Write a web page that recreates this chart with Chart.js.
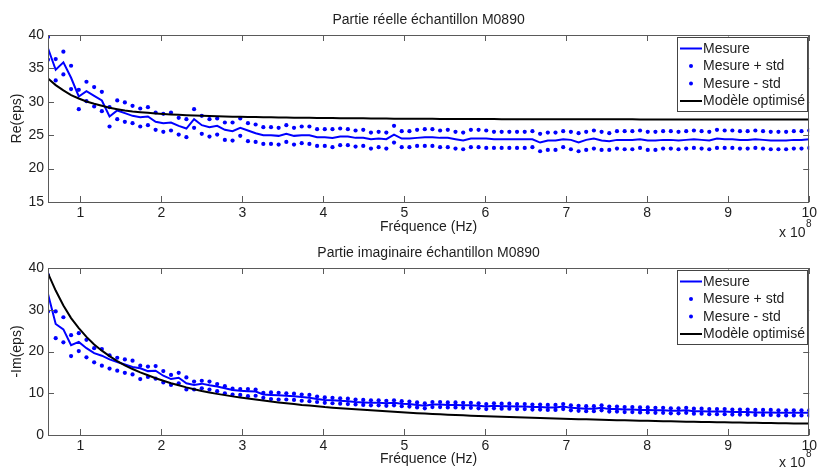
<!DOCTYPE html>
<html><head><meta charset="utf-8">
<script src="https://cdn.jsdelivr.net/npm/chart.js@4.4.1/dist/chart.umd.min.js"></script>
<style>
html,body{margin:0;padding:0;background:#fff;}
#wrap{position:relative;width:820px;height:471px;overflow:hidden;background:#fff;}
canvas{position:absolute;left:0;top:0;}
</style></head><body>
<div id="wrap">
<canvas id="c1" width="820" height="471" style="width:820px;height:471px"></canvas>
<canvas id="c2" width="820" height="471" style="width:820px;height:471px"></canvas>
</div>
<script>
// Frequencies in units of 1e8 Hz
const freq = [0.600,0.695,0.790,0.885,0.980,1.075,1.170,1.265,1.360,1.455,
1.549,1.644,1.739,1.834,1.929,2.024,2.119,2.214,2.309,2.404,
2.499,2.594,2.689,2.784,2.879,2.974,3.069,3.164,3.259,3.354,
3.448,3.543,3.638,3.733,3.828,3.923,4.018,4.113,4.208,4.303,
4.398,4.493,4.588,4.683,4.778,4.873,4.968,5.063,5.158,5.253,
5.347,5.442,5.537,5.632,5.727,5.822,5.917,6.012,6.107,6.202,
6.297,6.392,6.487,6.582,6.677,6.772,6.867,6.962,7.057,7.152,
7.246,7.341,7.436,7.531,7.626,7.721,7.816,7.911,8.006,8.101,
8.196,8.291,8.386,8.481,8.576,8.671,8.766,8.861,8.956,9.051,
9.145,9.240,9.335,9.430,9.525,9.620,9.715,9.810,9.905,10.000];

const xTicks = [1,2,3,4,5,6,7,8,9,10];
const reTicks = [15,20,25,30,35,40];
const imTicks = [0,10,20,30,40];
const seriesNames = ['Mesure','Mesure + std','Mesure - std','Modèle optimisé'];

const reMesure = [38.0,34.8,35.9,33.6,30.8,31.6,30.9,30.2,27.8,28.7,
28.3,27.9,27.7,27.8,27.0,26.8,26.9,26.4,26.0,27.4,
26.5,26.2,26.4,25.8,25.6,26.1,25.7,25.3,25.0,25.0,
24.9,25.2,24.9,25.0,25.0,24.7,24.7,24.6,24.8,24.8,
24.6,24.6,24.4,24.5,24.4,25.1,24.5,24.5,24.6,24.7,
24.7,24.6,24.6,24.4,24.2,24.5,24.5,24.5,24.4,24.4,
24.4,24.4,24.4,24.4,23.9,24.2,24.2,24.4,24.3,23.9,
24.3,24.5,24.2,24.1,24.3,24.3,24.3,24.4,24.2,24.2,
24.3,24.3,24.2,24.3,24.4,24.3,24.2,24.5,24.4,24.4,
24.3,24.3,24.4,24.3,24.2,24.2,24.2,24.3,24.3,24.4];
const rePlus = [39.7,36.4,37.5,35.4,31.8,33.0,32.2,31.5,29.2,30.2,
29.9,29.4,29.0,29.2,28.4,28.2,28.4,27.6,27.4,28.9,
27.9,27.4,27.5,26.9,26.9,27.5,26.8,26.6,26.2,26.2,
26.1,26.5,26.1,26.3,26.3,25.9,25.9,25.9,26.0,25.9,
25.7,25.8,25.4,25.5,25.4,26.4,25.6,25.6,25.8,25.9,
25.9,25.7,25.8,25.5,25.4,25.8,25.8,25.7,25.5,25.5,
25.5,25.5,25.5,25.6,25.2,25.4,25.4,25.6,25.5,25.3,
25.5,25.7,25.5,25.3,25.6,25.6,25.6,25.7,25.5,25.5,
25.6,25.6,25.5,25.6,25.7,25.6,25.5,25.8,25.7,25.7,
25.6,25.6,25.7,25.6,25.5,25.5,25.5,25.6,25.6,25.7];
const reMinus = [36.3,33.2,34.1,31.9,28.9,30.1,29.3,28.6,26.3,27.4,
27.0,26.8,26.3,26.5,25.8,25.5,25.7,25.1,24.7,26.1,
25.2,24.8,25.1,24.3,24.2,24.9,24.1,24.0,23.7,23.7,
23.6,24.0,23.6,23.8,23.7,23.4,23.4,23.2,23.5,23.5,
23.3,23.4,23.0,23.2,23.0,23.9,23.2,23.2,23.4,23.4,
23.4,23.2,23.2,23.0,22.9,23.2,23.2,23.1,23.1,23.1,
23.1,23.1,23.1,23.2,22.6,22.8,22.8,23.2,22.9,22.6,
22.8,23.0,22.8,22.8,23.0,22.9,22.9,23.1,22.8,22.8,
23.0,23.0,22.9,23.0,23.1,23.0,22.9,23.1,23.1,23.1,
23.0,23.0,23.1,23.0,22.9,22.9,22.9,23.0,23.0,23.1];
const reModel = [33.5,32.5,31.7,31.0,30.5,30.05,29.7,29.4,29.1,28.9,
28.7,28.55,28.45,28.35,28.25,28.17,28.1,28.05,28.0,27.95,
27.9,27.87,27.84,27.81,27.78,27.76,27.74,27.72,27.7,27.68,
27.66,27.64,27.62,27.61,27.6,27.58,27.57,27.56,27.55,27.54,
27.53,27.52,27.51,27.5,27.49,27.48,27.47,27.46,27.46,27.45,
27.45,27.44,27.44,27.43,27.43,27.42,27.42,27.41,27.41,27.4,
27.4,27.4,27.4,27.39,27.39,27.39,27.39,27.38,27.38,27.38,
27.38,27.38,27.37,27.37,27.37,27.37,27.37,27.36,27.36,27.36,
27.36,27.36,27.36,27.36,27.35,27.35,27.35,27.35,27.35,27.35,
27.35,27.35,27.34,27.34,27.34,27.34,27.34,27.34,27.34,27.34];

const imMesure = [33.8,26.6,25.3,21.5,22.3,20.8,19.6,19.0,18.1,17.5,
16.9,16.3,16.0,15.3,15.4,14.2,13.4,13.7,12.4,12.0,
12.3,11.9,11.6,11.2,10.8,10.6,10.5,10.4,9.7,9.6,
9.5,9.4,9.3,9.1,8.9,8.6,8.4,8.3,8.2,8.1,
7.9,7.8,7.7,7.7,7.6,7.7,7.5,7.4,7.2,7.0,
7.3,7.3,7.2,7.2,7.1,7.1,7.0,6.8,7.0,6.9,
6.9,6.8,6.8,6.7,6.7,6.6,6.6,6.8,6.5,6.4,
6.3,6.3,6.5,6.2,6.2,6.1,6.1,6.0,6.0,5.9,
5.9,5.8,5.8,5.9,5.7,5.7,5.6,5.6,5.6,5.5,
5.5,5.5,5.4,5.4,5.4,5.3,5.3,5.3,5.3,5.3];
const imPlus = [38.3,29.6,28.2,23.9,24.4,22.8,20.8,20.6,19.1,18.5,
18.1,17.8,16.6,16.4,16.5,15.3,14.4,14.9,13.8,12.8,
13.0,12.8,12.2,11.7,11.1,11.0,11.0,10.9,10.1,10.2,
10.1,10.0,9.9,9.7,9.6,9.2,9.0,8.9,8.8,8.7,
8.5,8.4,8.3,8.3,8.2,8.3,8.1,8.0,7.8,7.6,
7.9,7.9,7.8,7.8,7.7,7.7,7.6,7.4,7.6,7.5,
7.5,7.4,7.4,7.3,7.3,7.2,7.2,7.4,7.1,7.0,
6.9,6.9,7.1,6.8,6.8,6.7,6.7,6.6,6.6,6.5,
6.5,6.4,6.4,6.5,6.3,6.3,6.2,6.2,6.2,6.1,
6.1,6.1,6.0,6.0,6.0,5.9,5.9,5.9,5.9,5.9];
const imMinus = [29.6,23.2,22.2,18.9,20.1,18.6,17.4,16.6,15.9,15.4,
14.9,14.5,13.4,13.9,13.5,12.6,12.0,12.4,10.9,10.9,
11.2,10.9,10.5,10.0,9.7,9.6,9.3,9.4,8.9,8.6,
8.5,8.5,8.4,8.2,8.1,7.9,7.7,7.6,7.5,7.4,
7.3,7.2,7.1,7.1,7.0,7.1,6.9,6.8,6.6,6.4,
6.7,6.7,6.6,6.6,6.5,6.5,6.4,6.2,6.4,6.3,
6.3,6.2,6.2,6.1,6.1,6.0,6.0,6.2,5.9,5.8,
5.7,5.7,5.9,5.6,5.6,5.5,5.5,5.4,5.4,5.3,
5.3,5.2,5.2,5.3,5.1,5.1,5.0,5.0,5.0,4.9,
4.9,4.9,4.8,4.8,4.8,4.7,4.7,4.7,4.7,4.7];
const imModel = [38.7,34.6,31.0,28.0,25.6,23.5,21.7,20.2,18.9,17.7,
16.7,15.8,15.0,14.3,13.6,13.0,12.4,11.9,11.4,10.95,
10.55,10.2,9.85,9.55,9.25,9.0,8.75,8.5,8.25,8.0,
7.8,7.6,7.4,7.2,7.05,6.9,6.7,6.55,6.4,6.28,
6.15,6.02,5.9,5.78,5.66,5.55,5.42,5.32,5.22,5.13,
5.04,4.96,4.88,4.8,4.72,4.64,4.56,4.48,4.42,4.36,
4.3,4.24,4.18,4.12,4.06,4.0,3.95,3.9,3.85,3.8,
3.75,3.7,3.65,3.6,3.56,3.52,3.48,3.44,3.4,3.36,
3.32,3.28,3.24,3.2,3.17,3.14,3.11,3.08,3.05,3.02,
2.99,2.96,2.93,2.9,2.87,2.84,2.81,2.78,2.76,2.74];

const FONT = "'Liberation Sans', Arial, Helvetica, sans-serif";
const TXT = '#1e1e1e';
const AXC = '#5a5a5a';
const BLUE = '#0000ff';

function pts(arr){ return freq.map((f,i)=>({x:f, y:arr[i]})); }

function makeChart(id, o){
  const decor = {
    id:'matlabDecor',
    afterDraw(chart){
      const ctx = chart.ctx, a = chart.chartArea;
      const xs = chart.scales.x, ys = chart.scales.y;
      ctx.save();
      // box
      ctx.strokeStyle = AXC; ctx.lineWidth = 1;
      ctx.strokeRect(Math.round(a.left)+0.5, Math.round(a.top)+0.5, Math.round(a.right-a.left)-1, Math.round(a.bottom-a.top));
      // inward ticks
      ctx.beginPath();
      xTicks.forEach(v=>{
        const px = Math.round(xs.getPixelForValue(v))+0.5;
        ctx.moveTo(px, a.bottom); ctx.lineTo(px, a.bottom-6);
        ctx.moveTo(px, a.top); ctx.lineTo(px, a.top+6);
      });
      o.yTicks.forEach(v=>{
        const py = Math.round(ys.getPixelForValue(v))+0.5;
        ctx.moveTo(a.left, py); ctx.lineTo(a.left+6, py);
        ctx.moveTo(a.right, py); ctx.lineTo(a.right-6, py);
      });
      ctx.stroke();
      // texts
      ctx.fillStyle = TXT;
      ctx.font = '14px ' + FONT;
      ctx.textAlign = 'center'; ctx.textBaseline = 'middle';
      const cx = (a.left + a.right)/2;
      ctx.fillText(o.title, cx, o.titleY);
      ctx.fillText('Fréquence (Hz)', cx, o.xlabelY);
      ctx.save();
      ctx.translate(17, (a.top + a.bottom)/2);
      ctx.rotate(-Math.PI/2);
      ctx.fillText(o.ylabel, 0, 0);
      ctx.restore();
      ctx.textAlign = 'left';
      ctx.fillText('x 10', 779, o.expY);
      ctx.font = '10px ' + FONT;
      ctx.fillText('8', 806, o.expY - 9);
      // legend
      const lx = 677, lw = 130, lt = a.top + 1.5, lh = 74;
      ctx.fillStyle = '#fff';
      ctx.fillRect(lx, lt, lw, lh);
      ctx.strokeStyle = '#444'; ctx.lineWidth = 1;
      ctx.strokeRect(lx+0.5, Math.round(lt)+0.5, lw, lh);
      const rows = [12, 29.5, 47, 64.5];
      ctx.font = '14px ' + FONT; ctx.textBaseline = 'middle';
      chart.data.datasets.forEach((ds, k)=>{
        const y = lt + rows[k];
        if (ds.showLine === false){
          ctx.fillStyle = ds.pointBackgroundColor;
          ctx.beginPath(); ctx.arc(691, y, 2, 0, Math.PI*2); ctx.fill();
        } else {
          ctx.strokeStyle = ds.borderColor; ctx.lineWidth = ds.borderWidth;
          ctx.beginPath(); ctx.moveTo(680, y); ctx.lineTo(702, y); ctx.stroke();
        }
        ctx.fillStyle = TXT;
        ctx.fillText(ds.label, 703, y + 0.5);
      });
      ctx.restore();
    }
  };
  const dotDs = (label, arr) => ({label, data: pts(arr), showLine:false, pointRadius:2.1,
      pointBackgroundColor:BLUE, pointBorderWidth:0, pointStyle:'circle', borderColor:BLUE, order:2});
  return new Chart(document.getElementById(id), {
    type:'line',
    data:{ datasets:[
      {label:seriesNames[0], data:pts(o.mes), borderColor:BLUE, borderWidth:2, pointRadius:0, tension:0, order:1},
      dotDs(seriesNames[1], o.plus),
      dotDs(seriesNames[2], o.minus),
      {label:seriesNames[3], data:pts(o.model), borderColor:'#000', borderWidth:2, pointRadius:0, tension:0, order:0}
    ]},
    options:{
      responsive:false, animation:false, devicePixelRatio:1,
      layout:{padding:{top:o.padTop, right:9, bottom:o.padBottom, left:0}},
      plugins:{legend:{display:false}, tooltip:{enabled:false}, title:{display:false}},
      scales:{
        x:{type:'linear', min:0.6, max:10,
           afterBuildTicks:s=>{ s.ticks = xTicks.map(v=>({value:v})); },
           afterFit:s=>{ s.height = o.xAxisH; },
           grid:{display:false, drawTicks:false}, border:{display:false},
           ticks:{color:TXT, font:{family:FONT, size:14}, padding:3, maxRotation:0, autoSkip:false}},
        y:{type:'linear', min:o.ymin, max:o.ymax,
           afterBuildTicks:s=>{ s.ticks = o.yTicks.map(v=>({value:v})); },
           afterFit:s=>{ s.width = 48; },
           grid:{display:false, drawTicks:false}, border:{display:false},
           ticks:{color:TXT, font:{family:FONT, size:14}, padding:4}}
      }
    },
    plugins:[decor]
  });
}

makeChart('c1', {mes:reMesure, plus:rePlus, minus:reMinus, model:reModel,
  ymin:15, ymax:40, yTicks:reTicks, padTop:35, padBottom:235, xAxisH:34,
  title:'Partie réelle échantillon M0890', ylabel:'Re(eps)', titleY:20, xlabelY:227, expY:233});
makeChart('c2', {mes:imMesure, plus:imPlus, minus:imMinus, model:imModel,
  ymin:0, ymax:40, yTicks:imTicks, padTop:268, padBottom:0, xAxisH:36,
  title:'Partie imaginaire échantillon M0890', ylabel:'-Im(eps)', titleY:253, xlabelY:459, expY:463});
</script>
</body></html>
